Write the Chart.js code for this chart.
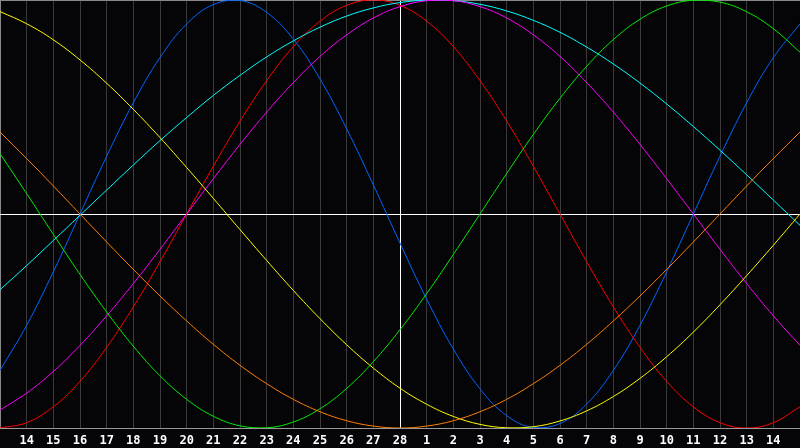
<!DOCTYPE html>
<html>
<head>
<meta charset="utf-8">
<script src="https://cdn.jsdelivr.net/npm/chart.js@4"></script>
<style>
  html, body { margin: 0; padding: 0; background: #050508; }
  #wrap { width: 800px; height: 448px; }
</style>
</head>
<body>
<div id="wrap"><canvas id="bio"></canvas></div>
<script>
// days shown along the bottom (13 .. 28, then 1 .. 15)
const days = ['13','14','15','16','17','18','19','20','21','22','23','24','25','26','27','28',
              '1','2','3','4','5','6','7','8','9','10','11','12','13','14','15']

const todayIndex = 15

// curves, one value per day, -1 .. 1
const red = [-1, -0.975, -0.901, -0.782, -0.623, -0.434, -0.223, 0, 0.223, 0.434, 0.623, 0.782, 0.901, 0.975, 1,
  0.975, 0.901, 0.782, 0.623, 0.434, 0.223, 0, -0.223, -0.434, -0.623, -0.782, -0.901, -0.975, -1, -0.975, -0.901]

const green = [0.282, 0.095, -0.095, -0.282, -0.458, -0.618, -0.756, -0.866, -0.945, -0.990, -0.999, -0.972, -0.910,
  -0.815, -0.690, -0.541, -0.372, -0.189, 0, 0.189, 0.372, 0.541, 0.690, 0.815, 0.910, 0.972, 0.999, 0.990, 0.945, 0.866, 0.756]

const blue = [-0.731, -0.520, -0.270, 0, 0.270, 0.520, 0.731, 0.888, 0.979, 0.998, 0.942, 0.817, 0.631, 0.398, 0.136,
  -0.136, -0.398, -0.631, -0.817, -0.942, -0.998, -0.979, -0.888, -0.731, -0.520, -0.270, 0, 0.270, 0.520, 0.731, 0.888]

const yellow = [0.946, 0.889, 0.814, 0.720, 0.611, 0.489, 0.357, 0.217, 0.073, -0.073, -0.217, -0.357, -0.489, -0.611,
  -0.720, -0.814, -0.889, -0.946, -0.983, -0.999, -0.994, -0.967, -0.920, -0.853, -0.768, -0.667, -0.552, -0.424, -0.288, -0.146, 0]

const cyan = [-0.354, -0.241, -0.124, -0.006, 0.112, 0.229, 0.343, 0.451, 0.554, 0.648, 0.734, 0.809, 0.873, 0.925, 0.963,
  0.988, 0.999, 0.997, 0.980, 0.949, 0.905, 0.849, 0.780, 0.701, 0.612, 0.514, 0.409, 0.298, 0.183, 0.065, -0.053]

const magenta = [-0.916, -0.837, -0.736, -0.614, -0.476, -0.325, -0.165, 0, 0.165, 0.325, 0.476, 0.614, 0.736, 0.837, 0.916,
  0.969, 0.997, 0.997, 0.969, 0.916, 0.837, 0.736, 0.614, 0.476, 0.325, 0.165, 0, -0.165, -0.325, -0.476, -0.614]

const orange = [0.383, 0.259, 0.131, 0, -0.131, -0.259, -0.383, -0.5, -0.609, -0.707, -0.793, -0.866, -0.924, -0.966, -0.991,
  -1, -0.991, -0.966, -0.924, -0.866, -0.793, -0.707, -0.609, -0.5, -0.383, -0.259, -0.131, 0, 0.131, 0.259, 0.383]

function linha(dados, cor){
  return {
    data: dados,
    borderColor: cor,
    borderWidth: 1,
    pointRadius: 0,
    pointHoverRadius: 0,
    fill: false,
    tension: 0.4
  }
}

const ctx = document.getElementById('bio')

new Chart(ctx, {
  type: 'line',
  data: {
    labels: days,
    datasets: [
      linha(orange, '#ff8000'),
      linha(yellow, '#ffff00'),
      linha(green, '#00ee00'),
      linha(magenta, '#ff00ff'),
      linha(cyan, '#00ffff'),
      linha(blue, '#0066ff'),
      linha(red, '#ff0000')
    ]
  },
  options: {
    responsive: true,
    maintainAspectRatio: false,
    animation: false,
    devicePixelRatio: 1,
    layout: { padding: 0, autoPadding: false },
    plugins: { legend: { display: false }, tooltip: { enabled: false } },
    scales: {
      x: {
        offset: false,
        grid: {
          drawTicks: true,
          tickLength: 6,
          tickColor: 'rgba(0,0,0,0)',
          lineWidth: 1,
          color: (c) => {
            if (c.index === todayIndex) return '#ffffff'
            if (c.index === 0 || c.index === days.length - 1) return '#888888'
            return '#3a3a3a'
          }
        },
        border: { display: true, color: '#999999', width: 1 },
        ticks: {
          autoSkip: false,
          maxRotation: 0,
          padding: 0,
          color: '#ffffff',
          font: { family: 'DejaVu Sans Mono', size: 12, weight: 'bold', lineHeight: '14px' },
          callback: function(v, i){
            if (i === 0 || i === days.length - 1) return ''
            return days[i]
          }
        }
      },
      y: {
        min: -1,
        max: 1,
        ticks: { display: false, stepSize: 1 },
        border: { display: false },
        grid: {
          drawTicks: false,
          color: (c) => {
            if (c.tick.value === 0) return '#ffffff'
            return '#888888'
          }
        }
      }
    }
  }
})
</script>
</body>
</html>
